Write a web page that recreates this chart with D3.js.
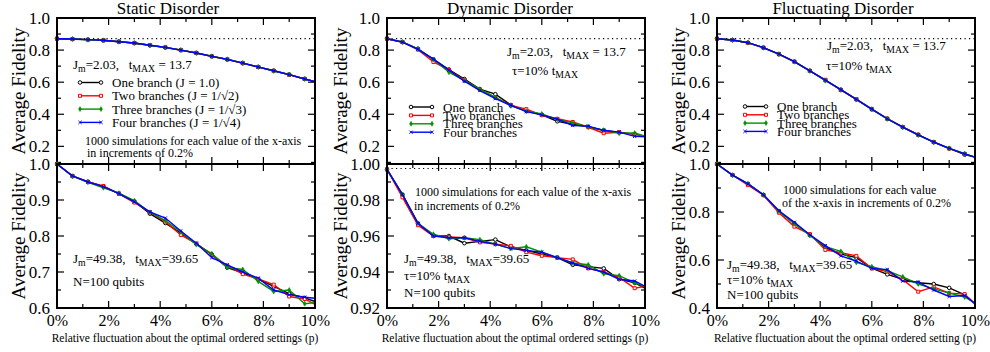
<!DOCTYPE html>
<html>
<head>
<meta charset="utf-8">
<script src="https://cdn.jsdelivr.net/npm/d3@7"></script>
<style>
  body { margin: 0; background: #fff; }
  text { font-family: "Liberation Serif", "Times New Roman", serif; fill: #000; }
</style>
</head>
<body>
<svg width="990" height="352"></svg>
<script>
// x values in percent (markers every 0.6%, curve ends at 10%)
var xPct = [0, 0.6, 1.2, 1.8, 2.4, 3.0, 3.6, 4.2, 4.8, 5.4, 6.0, 6.6, 7.2, 7.8, 8.4, 9.0, 9.6, 10];
var xTicks = [0, 2, 4, 6, 8, 10];

var branchNames = ["One branch", "Two branches", "Three branches", "Four branches"];
var branchColors = ["#000000", "#ff0000", "#009000", "#0000ff"];
var staticLegend = ["One branch (J = 1.0)", "Two branches (J = 1/\u221A2)", "Three branches (J = 1/\u221A3)", "Four branches (J = 1/\u221A4)"];

// top row, Jm = 2.03
var staticTop = [
  [0.871,0.869,0.865,0.860,0.853,0.843,0.830,0.816,0.800,0.782,0.762,0.741,0.719,0.695,0.671,0.647,0.621,0.603],
  [0.871,0.868,0.865,0.861,0.852,0.844,0.831,0.817,0.799,0.783,0.760,0.742,0.718,0.694,0.672,0.646,0.620,0.603],
  [0.871,0.869,0.864,0.861,0.852,0.845,0.829,0.817,0.801,0.781,0.761,0.743,0.720,0.695,0.670,0.648,0.619,0.603],
  [0.871,0.869,0.865,0.861,0.852,0.844,0.830,0.817,0.800,0.782,0.761,0.742,0.719,0.694,0.671,0.647,0.620,0.603]
];
var dynamicTop = [
  [0.871,0.850,0.808,0.742,0.679,0.620,0.557,0.525,0.458,0.420,0.397,0.356,0.338,0.322,0.299,0.287,0.276,0.262],
  [0.871,0.849,0.803,0.726,0.676,0.612,0.553,0.503,0.455,0.432,0.394,0.372,0.352,0.319,0.282,0.288,0.275,0.263],
  [0.871,0.851,0.808,0.741,0.662,0.609,0.556,0.505,0.452,0.420,0.402,0.368,0.346,0.321,0.301,0.282,0.283,0.264],
  [0.871,0.850,0.805,0.744,0.675,0.606,0.548,0.498,0.456,0.416,0.396,0.370,0.330,0.326,0.300,0.289,0.262,0.260]
];
var fluctTop = [
  [0.871,0.863,0.846,0.815,0.775,0.728,0.671,0.612,0.553,0.493,0.432,0.372,0.320,0.272,0.226,0.187,0.148,0.133],
  [0.871,0.862,0.845,0.815,0.774,0.728,0.671,0.615,0.550,0.494,0.430,0.373,0.321,0.273,0.227,0.186,0.153,0.133],
  [0.871,0.863,0.846,0.814,0.775,0.727,0.670,0.609,0.553,0.492,0.432,0.371,0.319,0.270,0.226,0.188,0.155,0.133],
  [0.871,0.863,0.846,0.815,0.775,0.728,0.671,0.613,0.553,0.493,0.432,0.372,0.320,0.272,0.227,0.187,0.153,0.133]
];

// bottom row, Jm = 49.38, N = 100
var staticBottom = [
  [1.000,0.966,0.951,0.937,0.918,0.896,0.862,0.836,0.808,0.778,0.749,0.712,0.698,0.680,0.660,0.640,0.628,0.618],
  [1.000,0.967,0.950,0.939,0.917,0.893,0.866,0.840,0.803,0.779,0.748,0.718,0.694,0.681,0.665,0.632,0.625,0.610],
  [1.000,0.966,0.949,0.934,0.919,0.898,0.866,0.843,0.811,0.776,0.751,0.713,0.707,0.674,0.646,0.650,0.612,0.615],
  [1.000,0.967,0.950,0.937,0.918,0.895,0.867,0.850,0.814,0.780,0.740,0.720,0.700,0.683,0.650,0.637,0.630,0.627]
];
var dynamicBottom = [
  [0.997,0.983,0.967,0.960,0.960,0.956,0.957,0.958,0.954,0.952,0.950,0.948,0.944,0.943,0.942,0.936,0.934,0.931],
  [0.997,0.9815,0.966,0.960,0.9595,0.959,0.9565,0.9555,0.9545,0.951,0.949,0.948,0.947,0.942,0.940,0.937,0.931,0.932],
  [0.997,0.983,0.967,0.961,0.9585,0.959,0.958,0.9555,0.953,0.954,0.951,0.948,0.945,0.944,0.939,0.938,0.934,0.932],
  [0.997,0.983,0.967,0.960,0.959,0.959,0.957,0.9555,0.953,0.952,0.951,0.948,0.945,0.942,0.940,0.936,0.935,0.932]
];
var fluctBottom = [
  [1.000,0.954,0.917,0.871,0.803,0.752,0.704,0.652,0.625,0.610,0.566,0.540,0.520,0.505,0.500,0.484,0.455,0.418],
  [1.000,0.954,0.912,0.870,0.797,0.739,0.708,0.642,0.630,0.617,0.565,0.552,0.518,0.468,0.488,0.462,0.458,0.418],
  [1.000,0.953,0.918,0.872,0.803,0.751,0.702,0.656,0.636,0.590,0.572,0.556,0.530,0.500,0.480,0.462,0.446,0.420],
  [1.000,0.954,0.917,0.872,0.805,0.757,0.705,0.660,0.617,0.595,0.565,0.560,0.512,0.508,0.475,0.448,0.452,0.418]
];

var svg = d3.select("svg");

var colLeft = [57, 387, 717];
var plotW = 258;
var topY = [18, 164];
var botY = [164, 308];

var symbols = [d3.symbolCircle, d3.symbolSquare, d3.symbolDiamond, d3.symbolTimes];
var symbolSizes = [10, 9, 7, 8];
var symbolStroke = [1.0, 1.0, 0.6, 1.0];

function drawMarker(g, k, x, y) {
  var sym = d3.symbol().type(symbols[k]).size(symbolSizes[k]);
  var p = g.append("path")
    .attr("d", sym())
    .attr("transform", "translate(" + x + "," + y + ")")
    .attr("stroke", branchColors[k])
    .attr("stroke-width", symbolStroke[k]);
  if (k == 0 || k == 1) p.attr("fill", "#fff");
  else if (k == 2) p.attr("fill", branchColors[k]);
  else p.attr("fill", "none");
}

var sp = "\u00A0\u00A0\u00A0";

// text with subscripts: parts = [[str, sub?], ...]
function richText(g, x, y, parts, size) {
  var t = g.append("text").attr("x", x).attr("y", y).attr("font-size", size);
  var shift = 0;
  parts.forEach(function (p) {
    var target = p[1] ? 3 : 0;
    var s = t.append("tspan").text(p[0]).attr("dy", target - shift);
    if (p[1]) s.attr("font-size", size * 0.75);
    shift = target;
  });
  return t;
}

function panel(o) {
  var x = d3.scaleLinear().domain([0, 10]).range([o.x0, o.x0 + plotW]);
  var y = d3.scaleLinear().domain(o.domain).range([o.py[1], o.py[0]]);
  var g = svg.append("g");

  // reference dotted line
  if (o.ref != null) {
    g.append("line")
      .attr("x1", x(0)).attr("x2", x(10))
      .attr("y1", y(o.ref)).attr("y2", y(o.ref))
      .attr("stroke", "#000").attr("stroke-width", 1.2)
      .attr("stroke-dasharray", "1.2,3.3");
  }

  // curves
  var line = d3.line()
    .x(function (d, i) { return x(xPct[i]); })
    .y(function (d) { return y(d); });
  o.series.forEach(function (s, k) {
    g.append("path")
      .attr("d", line(s))
      .attr("fill", "none")
      .attr("stroke", branchColors[k])
      .attr("stroke-width", 1.4);
    s.forEach(function (v, i) {
      if (xPct[i] <= 9.6) drawMarker(g, k, x(xPct[i]), y(v));
    });
  });

  // ticks on all four sides, pointing inward
  var yt = g.append("g");
  d3.range(0, 11, 1).forEach(function (t) {
    var len = t % 2 == 0 ? 7 : 4;
    yt.append("line").attr("x1", x(t)).attr("x2", x(t))
      .attr("y1", o.py[0]).attr("y2", o.py[0] + len);
    yt.append("line").attr("x1", x(t)).attr("x2", x(t))
      .attr("y1", o.py[1]).attr("y2", o.py[1] - len);
  });
  o.minor.forEach(function (t) {
    var len = o.major.some(function (m) { return Math.abs(m - t) < 1e-9; }) ? 7 : 4;
    yt.append("line").attr("y1", y(t)).attr("y2", y(t))
      .attr("x1", o.x0).attr("x2", o.x0 + len);
    yt.append("line").attr("y1", y(t)).attr("y2", y(t))
      .attr("x1", o.x0 + plotW).attr("x2", o.x0 + plotW - len);
  });
  yt.selectAll("line").attr("stroke", "#000").attr("stroke-width", 1.2);

  // frame
  g.append("rect")
    .attr("x", o.x0).attr("y", o.py[0])
    .attr("width", plotW).attr("height", o.py[1] - o.py[0])
    .attr("fill", "none").attr("stroke", "#000").attr("stroke-width", 2);

  // y labels
  var yAxis = d3.axisLeft(y).tickValues(o.major).tickSize(0).tickPadding(7)
    .tickFormat(d3.format(o.fmt));
  var ya = g.append("g").attr("transform", "translate(" + o.x0 + ",0)").call(yAxis);
  ya.select(".domain").remove();
  ya.selectAll("text").attr("font-size", 17).attr("font-family", "Liberation Serif");

  // y title
  g.append("text")
    .attr("transform", "translate(" + (o.x0 - o.titleOff) + "," + ((o.py[0] + o.py[1]) / 2) + ") rotate(-90)")
    .attr("text-anchor", "middle")
    .attr("font-size", 19)
    .text("Average Fidelity");

  if (o.xLabels) {
    var xAxis = d3.axisBottom(x).tickValues(xTicks).tickSize(0).tickPadding(7)
      .tickFormat(function (d) { return d + "%"; });
    var xa = g.append("g").attr("transform", "translate(0," + o.py[1] + ")").call(xAxis);
    xa.select(".domain").remove();
    xa.selectAll("text").attr("font-size", 16).attr("font-family", "Liberation Serif");
    g.append("text")
      .attr("x", o.x0 + plotW / 2 - 1).attr("y", 342)
      .attr("text-anchor", "middle")
      .attr("font-size", 11.5)
      .text(o.xTitle);
  }
  return { g: g, x: x, y: y };
}

function legend(g, x0, y0, dy, labels) {
  labels.forEach(function (lab, k) {
    var yy = y0 + k * dy;
    g.append("line").attr("x1", x0).attr("x2", x0 + 21)
      .attr("y1", yy).attr("y2", yy)
      .attr("stroke", branchColors[k]).attr("stroke-width", 1.4);
    drawMarker(g, k, x0, yy);
    drawMarker(g, k, x0 + 21, yy);
    g.append("text").attr("x", x0 + 32).attr("y", yy + 4.5)
      .attr("font-size", 13).text(lab);
  });
}

var topCommon = { domain: [0.09, 1.0], major: [0.2, 0.4, 0.6, 0.8, 1.0],
  minor: [0.1, 0.2, 0.3, 0.4, 0.5, 0.6, 0.7, 0.8, 0.9], fmt: ".1f", ref: 0.871 };

// ---- Static ----
panel(Object.assign({}, topCommon, { x0: colLeft[0], py: topY, series: staticTop, titleOff: 32 }));
panel({ x0: colLeft[0], py: botY, domain: [0.6, 1.0], major: [0.6, 0.7, 0.8, 0.9, 1.0],
  minor: [0.65, 0.7, 0.75, 0.8, 0.85, 0.9, 0.95], fmt: ".1f", series: staticBottom, xLabels: true, titleOff: 32,
  xTitle: "Relative fluctuation about the optimal ordered settings (p)" });

// ---- Dynamic ----
panel(Object.assign({}, topCommon, { x0: colLeft[1], py: topY, series: dynamicTop, titleOff: 40 }));
panel({ x0: colLeft[1], py: botY, domain: [0.92, 1.0], major: [0.92, 0.94, 0.96, 0.98, 1.0],
  minor: [0.93, 0.94, 0.95, 0.96, 0.97, 0.98, 0.99], fmt: ".2f", ref: 0.9975, series: dynamicBottom, xLabels: true,
  titleOff: 40, xTitle: "Relative fluctuation about the optimal ordered settings (p)" });

// ---- Fluctuating ----
panel(Object.assign({}, topCommon, { x0: colLeft[2], py: topY, series: fluctTop, titleOff: 32 }));
panel({ x0: colLeft[2], py: botY, domain: [0.4, 1.0], major: [0.4, 0.6, 0.8, 1.0],
  minor: [0.5, 0.6, 0.7, 0.8, 0.9], fmt: ".1f", series: fluctBottom, xLabels: true, titleOff: 32,
  xTitle: "Relative fluctuation about the optimal ordered setting (p)" });

// titles
[["Static Disorder", 168], ["Dynamic Disorder", 510], ["Fluctuating Disorder", 843]].forEach(function (t) {
  svg.append("text").attr("x", t[1]).attr("y", 14).attr("text-anchor", "middle")
    .attr("font-size", 17).text(t[0]);
});

// annotations
var ann = svg.append("g");
richText(ann, 73, 69, [["J"], ["m", 1], ["=2.03," + sp + "t"], ["MAX", 1], [" = 13.7"]], 13);
legend(ann, 80, 82.5, 13.3, staticLegend);
ann.append("text").attr("x", 85).attr("y", 145).attr("font-size", 12).text("1000 simulations for each value of the x-axis");
ann.append("text").attr("x", 87).attr("y", 157).attr("font-size", 12).text("in increments of 0.2%");
richText(ann, 73, 263, [["J"], ["m", 1], ["=49.38," + sp + "t"], ["MAX", 1], ["=39.65"]], 13);
ann.append("text").attr("x", 73).attr("y", 286).attr("font-size", 13).text("N=100 qubits");

richText(ann, 507, 56, [["J"], ["m", 1], ["=2.03," + sp + "t"], ["MAX", 1], [" = 13.7"]], 13);
richText(ann, 512, 75, [["\u03C4=10% t"], ["MAX", 1]], 13);
legend(ann, 411, 107, 8.4, branchNames);
ann.append("text").attr("x", 415).attr("y", 196).attr("font-size", 12).text("1000 simulations for each value of the x-axis");
ann.append("text").attr("x", 414).attr("y", 210).attr("font-size", 12).text("in increments of 0.2%");
richText(ann, 404, 263, [["J"], ["m", 1], ["=49.38," + sp + "t"], ["MAX", 1], ["=39.65"]], 13);
richText(ann, 404, 280, [["\u03C4=10% t"], ["MAX", 1]], 13);
ann.append("text").attr("x", 404).attr("y", 297).attr("font-size", 13).text("N=100 qubits");

richText(ann, 827, 50, [["J"], ["m", 1], ["=2.03," + sp + "t"], ["MAX", 1], [" = 13.7"]], 13);
richText(ann, 826, 70, [["\u03C4=10% t"], ["MAX", 1]], 13);
legend(ann, 745, 106.5, 8.3, branchNames);
ann.append("text").attr("x", 783).attr("y", 194).attr("font-size", 12).text("1000 simulations for each value");
ann.append("text").attr("x", 782).attr("y", 207).attr("font-size", 12).text("of the x-axis in increments of 0.2%");
richText(ann, 727, 269, [["J"], ["m", 1], ["=49.38," + sp + "t"], ["MAX", 1], ["=39.65"]], 13);
richText(ann, 727, 284, [["\u03C4=10% t"], ["MAX", 1]], 13);
ann.append("text").attr("x", 727).attr("y", 299).attr("font-size", 13).text("N=100 qubits");
</script>
</body>
</html>
